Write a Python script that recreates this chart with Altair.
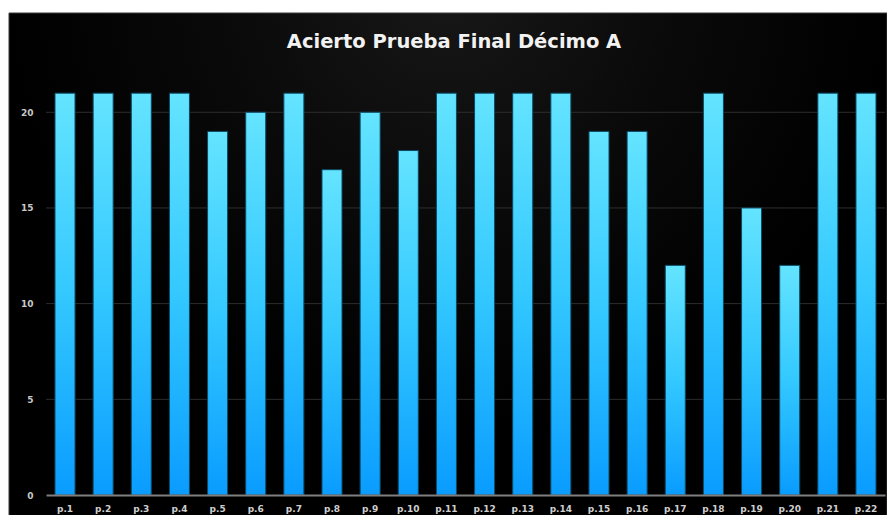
import altair as alt
import pandas as pd

categories = ["p.1", "p.2", "p.3", "p.4", "p.5", "p.6", "p.7", "p.8", "p.9", "p.10", "p.11",
              "p.12", "p.13", "p.14", "p.15", "p.16", "p.17", "p.18", "p.19", "p.20", "p.21", "p.22"]
values = [21, 21, 21, 21, 19, 20, 21, 17, 20, 18, 21, 21, 21, 21, 19, 19, 12, 21, 15, 12, 21, 21]
y_ticks = [0, 5, 10, 15, 20]
grid_values = [5, 10, 15, 20]
title_text = "Acierto Prueba Final Décimo A"

df = pd.DataFrame({"pregunta": categories, "aciertos": values})
grid_df = pd.DataFrame({"v": grid_values})

W, H = 839, 421
PAD = {"left": 38, "right": 2, "top": 66, "bottom": 20}

bar_gradient = alt.LinearGradient(
    gradient="linear",
    stops=[alt.GradientStop(color="#64e4ff", offset=0),
           alt.GradientStop(color="#33c8ff", offset=0.5),
           alt.GradientStop(color="#0a9cff", offset=1)],
    x1=0, x2=0, y1=0, y2=1,
)

glow = alt.RadialGradient(
    gradient="radial",
    stops=[alt.GradientStop(color="#181818", offset=0),
           alt.GradientStop(color="#0a0a0a", offset=0.5),
           alt.GradientStop(color="#000000", offset=1)],
    x1=0.5, y1=0.18, r1=0, x2=0.5, y2=0.18, r2=0.5,
)

bg = alt.Chart(pd.DataFrame({"k": [0]})).mark_rect(fill=glow, stroke="#3a3a3a", strokeWidth=1).encode(
    x=alt.value(-PAD["left"] + 1), x2=alt.value(W + PAD["right"]),
    y=alt.value(-PAD["top"] + 5), y2=alt.value(H + PAD["bottom"] + 2),
)

grid = alt.Chart(grid_df).mark_rule(color="#2e2e2e", strokeWidth=1).encode(
    y=alt.Y("v:Q", title=None),
)

bars = alt.Chart(df).mark_bar(fill=bar_gradient, stroke="#0b4a63", strokeWidth=1).encode(
    x=alt.X("pregunta:N", sort=categories, title=None,
            scale=alt.Scale(paddingInner=0.475, paddingOuter=0.236),
            axis=alt.Axis(labelAngle=0, labelFont="DejaVu Sans", labelFontWeight="bold",
                          labelFontSize=9, labelColor="#cfcfcf", labelPadding=9,
                          ticks=False, domain=True, domainColor="#7f7f7f", domainWidth=2,
                          grid=False, zindex=1)),
    y=alt.Y("aciertos:Q", title=None,
            scale=alt.Scale(domain=[0, 22], nice=False),
            axis=alt.Axis(values=y_ticks, labelFont="DejaVu Sans", labelFontWeight="bold",
                          labelFontSize=9, labelColor="#c8c8c8", labelPadding=13,
                          ticks=False, domain=False, grid=False, zindex=1)),
)

title = alt.Chart(pd.DataFrame({"t": [title_text]})).mark_text(
    font="DejaVu Sans", fontSize=19.5, fontWeight="bold", color="#f2f2f2",
    align="center", baseline="alphabetic",
).encode(text="t:N", x=alt.value(408), y=alt.value(-26))

chart = alt.layer(bg, grid, bars, title).properties(
    width=W, height=H,
    autosize=alt.AutoSizeParams(type="none"),
    padding=PAD,
).configure(background="#ffffff").configure_view(stroke=None)

chart.save("out.html", embed_options={"renderer": "svg", "actions": False})
